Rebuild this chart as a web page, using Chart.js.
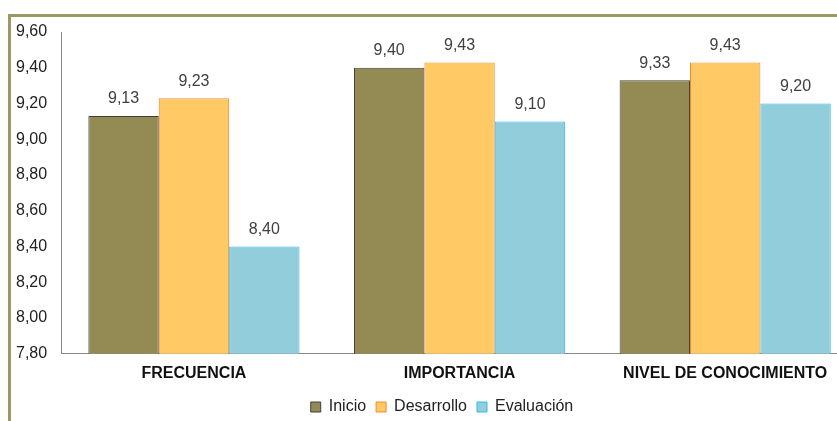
<!DOCTYPE html>
<html>
<head>
<meta charset="utf-8">
<script src="https://cdn.jsdelivr.net/npm/chart.js@4/dist/chart.umd.min.js"></script>
<style>
  html, body { margin: 0; padding: 0; background: #fff; overflow: hidden; }
  #wrap { width: 837px; height: 421px; overflow: hidden; position: relative; }
</style>
</head>
<body>
<div id="wrap"><canvas id="grafico" width="858" height="421"></canvas></div>
<script>
// Datos del gráfico
const categorias = ['FRECUENCIA', 'IMPORTANCIA', 'NIVEL DE CONOCIMIENTO'];
const inicio = [9.13, 9.40, 9.33];
const desarrollo = [9.23, 9.43, 9.43];
const evaluacion = [8.40, 9.10, 9.20];
const ejeMin = 7.8;
const ejeMax = 9.6;
const paso = 0.2;

const fuente = 'Liberation Sans, Arial, sans-serif';
const coma = v => v.toFixed(2).replace('.', ',');

// Marco oliva y etiquetas de valores
const marco = {
    id: 'marco',
    beforeDraw(chart) {
        const ctx = chart.ctx;
        ctx.save();
        ctx.fillStyle = '#fff';
        ctx.fillRect(0, 0, chart.width, chart.height);
        ctx.fillStyle = '#9E9766';
        ctx.fillRect(8, 14, chart.width, 3);
        ctx.fillRect(8, 14, 3, chart.height);
        ctx.restore();
    },
    afterLayout(chart) {
        // mover la leyenda como en el original
        const lg = chart.legend;
        lg.left += 12; lg.right += 12;
        lg.top -= 4; lg.bottom -= 4;
    },
    afterDatasetsDraw(chart) {
        const ctx = chart.ctx;
        ctx.save();
        ctx.font = '16px ' + fuente;
        ctx.fillStyle = '#404040';
        ctx.textAlign = 'center';
        ctx.textBaseline = 'middle';
        chart.data.datasets.forEach((ds, i) => {
            chart.getDatasetMeta(i).data.forEach((bar, j) => {
                ctx.fillText(coma(ds.data[j]), bar.x, bar.y - 17);
            });
        });
        ctx.restore();
    }
};

const ctx = document.getElementById('grafico').getContext('2d');
new Chart(ctx, {
    type: 'bar',
    data: {
        labels: categorias,
        datasets: [
            { label: 'Inicio', data: inicio, backgroundColor: '#948A54', borderColor: '#3F3F3F', borderWidth: 1 },
            { label: 'Desarrollo', data: desarrollo, backgroundColor: '#FFC966', borderColor: '#F08A2C', borderWidth: 1 },
            { label: 'Evaluación', data: evaluacion, backgroundColor: '#92CDDC', borderColor: '#2DBCEB', borderWidth: 1 }
        ]
    },
    options: {
        responsive: false,
        animation: false,
        categoryPercentage: 0.795,
        barPercentage: 1,
        layout: { padding: { top: 32, left: 2, right: 0, bottom: -8 } },
        scales: {
            x: {
                grid: { display: false, drawTicks: false },
                border: { display: true, color: '#888' },
                ticks: { color: '#111', padding: 10, font: { family: fuente, size: 16, weight: 'bold' } }
            },
            y: {
                min: ejeMin,
                max: ejeMax,
                grid: { display: false, drawTicks: false },
                border: { display: true, color: '#888' },
                ticks: {
                    stepSize: paso,
                    padding: 14,
                    color: '#222',
                    font: { family: fuente, size: 16 },
                    callback: v => coma(v)
                }
            }
        },
        plugins: {
            legend: {
                position: 'bottom',
                labels: {
                    boxWidth: 10,
                    boxHeight: 10,
                    padding: 10,
                    color: '#222',
                    font: { family: fuente, size: 16 }
                }
            },
            tooltip: { enabled: false }
        }
    },
    plugins: [marco]
});
</script>
</body>
</html>
